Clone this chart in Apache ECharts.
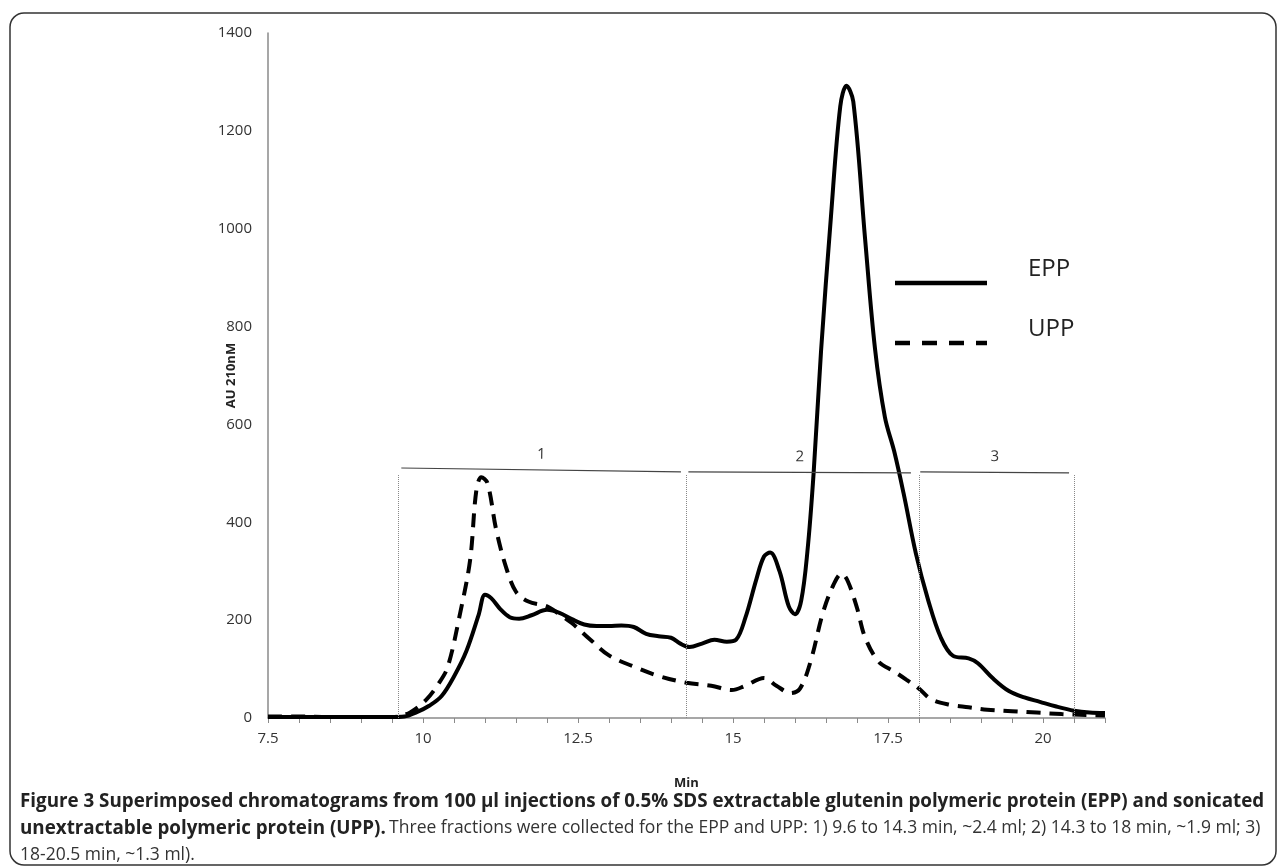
<!DOCTYPE html>
<html>
<head>
<meta charset="utf-8">
<script src="https://cdn.jsdelivr.net/npm/echarts@6/dist/echarts.min.js"></script>
<style>
  html, body { margin: 0; padding: 0; background: #fff; }
  #chart { width: 1282px; height: 868px; }
</style>
</head>
<body>
<div id="chart"></div>
<script>
// retention time (min) / absorbance readings
const eppTime = [7.5, 8, 8.5, 9, 9.5, 9.7, 9.9, 10.1, 10.3, 10.5, 10.7, 10.9, 11.0, 11.1, 11.25, 11.4, 11.55, 11.75, 12.0, 12.2, 12.4, 12.6, 12.8, 13.0, 13.2, 13.4, 13.6, 13.8, 14.0, 14.15, 14.3, 14.5, 14.7, 14.9, 15.05, 15.2, 15.38, 15.5, 15.6, 15.75, 15.9, 16.0, 16.1, 16.2, 16.3, 16.42, 16.58, 16.73, 16.83, 16.94, 17.13, 17.29, 17.45, 17.6, 17.75, 17.95, 18.15, 18.35, 18.55, 18.8, 18.95, 19.2, 19.45, 19.7, 19.95, 20.2, 20.5, 20.75, 21.0]
const eppAU = [2, 2, 2, 2, 2, 3, 12, 25, 45, 85, 137, 212, 252, 245, 222, 206, 203, 210, 221, 215, 202, 191, 188, 188, 189, 186, 172, 167, 164, 152, 145, 152, 160, 156, 160, 205, 285, 330, 338, 300, 228, 212, 240, 340, 500, 750, 1025, 1250, 1292, 1260, 980, 755, 615, 545, 460, 336, 240, 165, 127, 122, 112, 80, 55, 42, 33, 24, 15, 11, 10]

const uppTime = [7.5, 8, 8.5, 9, 9.5, 9.6, 9.8, 10.05, 10.25, 10.4, 10.6, 10.76, 10.86, 10.94, 11.04, 11.18, 11.34, 11.5, 11.7, 12.0, 12.2, 12.4, 12.7, 13.0, 13.4, 13.8, 14.25, 14.65, 14.98, 15.2, 15.5, 15.7, 15.93, 16.08, 16.25, 16.45, 16.62, 16.75, 16.85, 17.0, 17.13, 17.35, 17.6, 17.8, 18.0, 18.2, 18.5, 18.8, 19.1, 19.5, 19.9, 20.3, 20.7, 21.0]
const uppAU = [3, 3, 2, 2, 2, 3, 12, 37, 70, 105, 215, 323, 465, 492, 480, 385, 308, 258, 238, 228, 212, 194, 160, 128, 105, 86, 72, 66, 57, 66, 82, 66, 51, 60, 115, 215, 272, 295, 280, 225, 165, 115, 95, 78, 60, 38, 27, 22, 17, 14, 11, 8, 6, 5]

// collected fractions
const fractionNames = ['1', '2', '3']
const fractionStart = [9.65, 14.28, 18.02]
const fractionEnd = [14.16, 17.87, 20.42]
const fractionStartAU = [511, 503, 503]
const fractionEndAU = [503, 501, 501]
const cutTimes = [9.6, 14.25, 18.0, 20.5]
const cutTopAU = 498

const xLabels = [7.5, 10, 12.5, 15, 17.5, 20]
const seriesNames = ['EPP', 'UPP']

const zip = (xs, ys) => xs.map((x, i) => [x, ys[i]])

const chart = echarts.init(document.getElementById('chart'))

const font = '"Open Sans", "Noto Sans", sans-serif'
const uppDash = [15, 12]

// legend key drawn by hand: line on the left, label offset upwards
const legendKey = (name, y, dash) => [
  {
    type: 'line',
    silent: true,
    shape: { x1: 895, y1: y, x2: 987, y2: y },
    style: { stroke: '#000', lineWidth: 4.5, lineDash: dash || null }
  },
  {
    type: 'text',
    silent: true,
    x: 1028,
    y: y - 14,
    style: { text: name, font: '24px ' + font, fill: '#222', verticalAlign: 'middle' }
  }
]

const option = {
  animation: false,
  textStyle: { fontFamily: font },
  grid: { left: 268, right: 177, top: 33, bottom: 150 },
  xAxis: {
    type: 'value',
    min: 7.5,
    max: 21,
    interval: 0.5,
    name: 'Min',
    nameLocation: 'middle',
    nameGap: 59,
    nameMoveOverlap: false,
    nameTextStyle: { fontSize: 13, fontWeight: 'bold', color: '#222' },
    axisLine: { lineStyle: { color: '#8a8a8a', width: 1.5 } },
    axisTick: { show: true, length: 5, lineStyle: { color: '#8a8a8a' } },
    axisLabel: {
      fontSize: 15,
      color: '#333',
      margin: 13,
      formatter: v => (xLabels.includes(v) ? String(v) : '')
    },
    splitLine: { show: false }
  },
  yAxis: {
    type: 'value',
    min: 0,
    max: 1400,
    interval: 200,
    name: 'AU 210nM',
    nameLocation: 'middle',
    nameGap: 30,
    nameMoveOverlap: false,
    nameTextStyle: { fontSize: 13, fontWeight: 'bold', color: '#222' },
    axisLine: { show: true, lineStyle: { color: '#8a8a8a', width: 1.5 } },
    axisTick: { show: false },
    axisLabel: { fontSize: 15, color: '#333', margin: 16, formatter: v => String(v) },
    splitLine: { show: false }
  },
  series: [
    {
      name: 'fractions',
      type: 'line',
      data: [],
      silent: true,
      markLine: {
        silent: true,
        symbol: ['none', 'none'],
        data: [
          ...fractionNames.map((n, i) => [
            { coord: [fractionStart[i], fractionStartAU[i]], lineStyle: { color: '#444', width: 1.2, type: 'solid' },
              label: { show: true, formatter: n, position: 'middle', distance: 8, color: '#333', fontSize: 15 } },
            { coord: [fractionEnd[i], fractionEndAU[i]] }
          ]),
          ...cutTimes.map(t => [
            { coord: [t, 0], lineStyle: { color: '#888', width: 1, type: 'dotted' }, label: { show: false } },
            { coord: [t, cutTopAU] }
          ])
        ]
      }
    },
    {
      name: seriesNames[0],
      type: 'line',
      data: zip(eppTime, eppAU),
      smooth: 0.35,
      symbol: 'none',
      lineStyle: { color: '#000', width: 4 },
      itemStyle: { color: '#000' },
      z: 3
    },
    {
      name: seriesNames[1],
      type: 'line',
      data: zip(uppTime, uppAU),
      smooth: 0.35,
      symbol: 'none',
      lineStyle: { color: '#000', width: 4, type: [14, 9] },
      itemStyle: { color: '#000' },
      z: 2
    }
  ],
  graphic: [
    {
      type: 'rect',
      silent: true,
      shape: { x: 10, y: 13, width: 1266, height: 852, r: 14 },
      style: { fill: 'none', stroke: '#333', lineWidth: 1.5 }
    },
    ...legendKey(seriesNames[0], 283),
    ...legendKey(seriesNames[1], 343, uppDash),
    {
      type: 'text',
      left: 20,
      top: 792,
      style: {
        text: 'Figure 3 Superimposed chromatograms from 100 µl injections of 0.5% SDS extractable glutenin polymeric protein (EPP) and sonicated',
        font: 'bold 18.8px ' + font,
        fill: '#222'
      }
    },
    {
      type: 'text',
      left: 20,
      top: 819,
      style: {
        text: '{b|unextractable polymeric protein (UPP).} {n|Three fractions were collected for the EPP and UPP: 1) 9.6 to 14.3 min, ~2.4 ml; 2) 14.3 to 18 min, ~1.9 ml; 3)}',
        rich: {
          b: { fontWeight: 'bold', fontSize: 18.8, fontFamily: font, fill: '#222', color: '#222' },
          n: { fontSize: 17.5, fontFamily: font, fill: '#333', color: '#333' }
        }
      }
    },
    {
      type: 'text',
      left: 20,
      top: 846,
      style: {
        text: '18-20.5 min, ~1.3 ml).',
        font: '17.5px ' + font,
        fill: '#333'
      }
    }
  ]
}

chart.setOption(option)
</script>
</body>
</html>
